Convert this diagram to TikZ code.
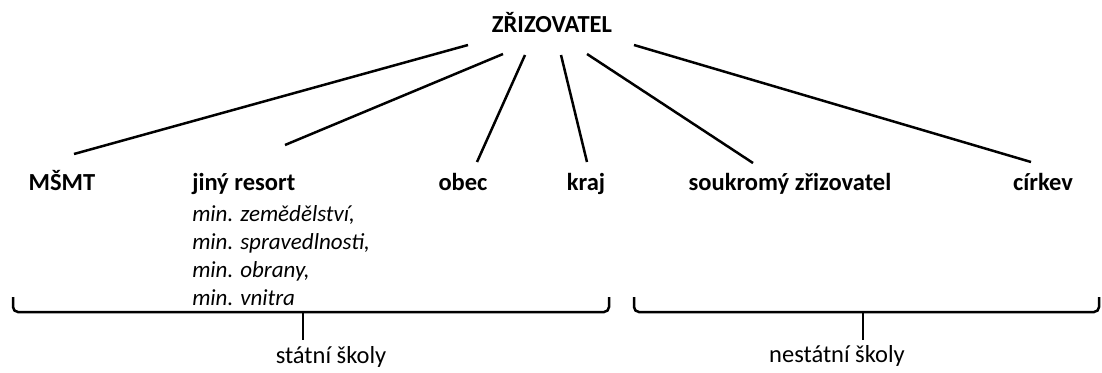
\documentclass[tikz,border=0pt]{standalone}
\usepackage{fontspec}
\setmainfont{Carlito}
\usetikzlibrary{calc}

\begin{document}
\begin{tikzpicture}[x=1pt,y=-1pt,line width=2.5pt,
  every node/.style={font=\fontsize{24.5}{28}\selectfont,inner sep=0pt},
  label/.style={anchor=base,font=\fontsize{24.5}{28}\selectfont\bfseries},
  ministry/.style={anchor=base west,font=\fontsize{23}{28}\selectfont\itshape}]
\useasboundingbox (0,0) rectangle (1102,372);
\node[label] (zriz) at (552,32) {ZŘIZOVATEL};
\node[label] (msmt) at (62,190) {MŠMT};
\node[label,anchor=base west] (jiny) at (191,190) {jiný resort};
\node[label] (obec) at (463,190) {obec};
\node[label] (kraj) at (586,190) {kraj};
\node[label] (soukr) at (790,190) {soukromý zřizovatel};
\node[label] (cirkev) at (1043,190) {církev};
\node[ministry] (min1) at (191,221) {min. zemědělství,};
\node[ministry] (min2) at (191,249) {min. spravedlnosti,};
\node[ministry] (min3) at (191,277) {min. obrany,};
\node[ministry] (min4) at (191,305) {min. vnitra};
\node[anchor=base] (statni) at (331,363) {státní školy};
\node[anchor=base] (nestatni) at (837,362) {nestátní školy};
\coordinate (zriz1) at (468,45);
\coordinate (zriz2) at (503,54);
\coordinate (zriz3) at (525,55);
\coordinate (zriz4) at (561,55);
\coordinate (zriz5) at (587,54);
\coordinate (zriz6) at (634,45);
\coordinate (msmt1) at (74,154);
\coordinate (jiny1) at (285,145);
\coordinate (obec1) at (477,162);
\coordinate (kraj1) at (587,162);
\coordinate (soukr1) at (753,163);
\coordinate (cirkev1) at (1031,162);
\draw (zriz1) -- (msmt1);
\draw (zriz2) -- (jiny1);
\draw (zriz3) -- (obec1);
\draw (zriz4) -- (kraj1);
\draw (zriz5) -- (soukr1);
\draw (zriz6) -- (cirkev1);
\draw[rounded corners=5pt] (13,297) |- (609,312) -- (609,297);
\draw (303,312) -- (303,340);
\draw[rounded corners=5pt] (634,297) |- (1099,312) -- (1099,297);
\draw (863,312) -- (863,340);
\end{tikzpicture}
\end{document}
